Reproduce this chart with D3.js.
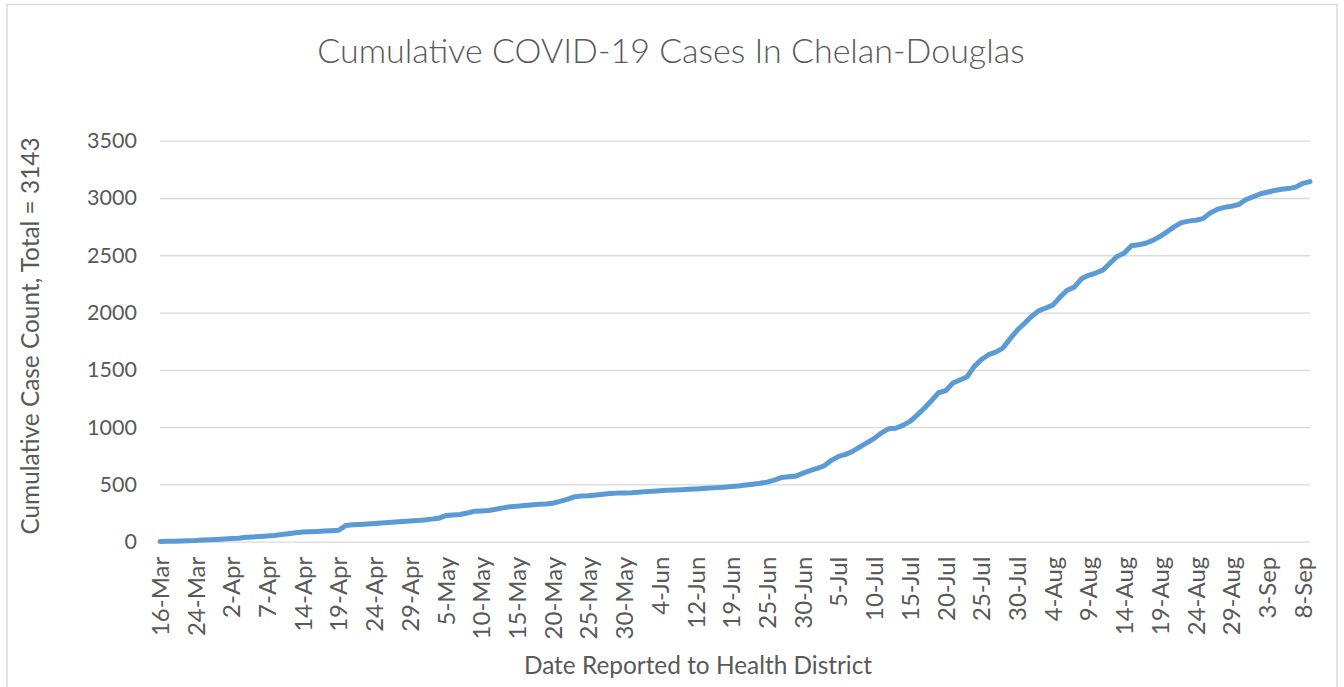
<!DOCTYPE html>
<html>
<head>
<meta charset="utf-8">
<script src="https://cdn.jsdelivr.net/npm/d3@7"></script>
<style>
  html, body { margin: 0; padding: 0; background: #fff; }
  svg text { font-family: Lato, "Open Sans", sans-serif; fill: #595959; }
</style>
</head>
<body>
<script>
    // reported dates (category axis, not continuous time)
    var dates = (
        "16-Mar 17-Mar 18-Mar 19-Mar 20-Mar 24-Mar 25-Mar 27-Mar 30-Mar 31-Mar " +
        "2-Apr 3-Apr 4-Apr 5-Apr 6-Apr 7-Apr 8-Apr 9-Apr 10-Apr 13-Apr " +
        "14-Apr 15-Apr 16-Apr 17-Apr 18-Apr 19-Apr 20-Apr 21-Apr 22-Apr 23-Apr " +
        "24-Apr 25-Apr 26-Apr 27-Apr 28-Apr 29-Apr 30-Apr 1-May 2-May 4-May " +
        "5-May 6-May 7-May 8-May 9-May 10-May 11-May 12-May 13-May 14-May " +
        "15-May 16-May 17-May 18-May 19-May 20-May 21-May 22-May 23-May 24-May " +
        "25-May 26-May 27-May 28-May 29-May 30-May 31-May 1-Jun 2-Jun 3-Jun " +
        "4-Jun 5-Jun 8-Jun 9-Jun 10-Jun 12-Jun 15-Jun 16-Jun 17-Jun 18-Jun " +
        "19-Jun 20-Jun 22-Jun 23-Jun 24-Jun 25-Jun 26-Jun 27-Jun 28-Jun 29-Jun " +
        "30-Jun 1-Jul 2-Jul 3-Jul 4-Jul 5-Jul 6-Jul 7-Jul 8-Jul 9-Jul " +
        "10-Jul 11-Jul 12-Jul 13-Jul 14-Jul 15-Jul 16-Jul 17-Jul 18-Jul 19-Jul " +
        "20-Jul 21-Jul 22-Jul 23-Jul 24-Jul 25-Jul 26-Jul 27-Jul 28-Jul 29-Jul " +
        "30-Jul 31-Jul 1-Aug 2-Aug 3-Aug 4-Aug 5-Aug 6-Aug 7-Aug 8-Aug " +
        "9-Aug 10-Aug 11-Aug 12-Aug 13-Aug 14-Aug 15-Aug 16-Aug 17-Aug 18-Aug " +
        "19-Aug 20-Aug 21-Aug 22-Aug 23-Aug 24-Aug 25-Aug 26-Aug 27-Aug 28-Aug " +
        "29-Aug 30-Aug 31-Aug 1-Sep 2-Sep 3-Sep 4-Sep 5-Sep 6-Sep 7-Sep " +
        "8-Sep 9-Sep").split(" ");

    var cases = [
        2, 3, 4, 6, 8, 10, 14, 17, 20, 24,
        27, 30, 38, 42, 46, 50, 55, 62, 70, 78,
        84, 87, 90, 93, 96, 100, 141, 147, 151, 155,
        159, 163, 167, 171, 176, 180, 184, 190, 197, 204,
        228, 233, 238, 250, 266, 269, 272, 283, 295, 305,
        310, 315, 320, 326, 330, 336, 352, 370, 392, 398,
        402, 408, 414, 420, 424, 426, 428, 432, 437, 441,
        445, 448, 451, 454, 457, 460, 464, 468, 472, 476,
        481, 487, 494, 502, 510, 520, 537, 560, 566, 572,
        598, 620, 640, 663, 710, 745, 762, 790, 828, 865,
        902, 950, 985, 990, 1015, 1050, 1105, 1165, 1230, 1300,
        1318, 1385, 1412, 1440, 1530, 1590, 1632, 1655, 1690, 1770,
        1845, 1905, 1965, 2015, 2040, 2065, 2135, 2195, 2222, 2295,
        2325, 2345, 2370, 2430, 2490, 2520, 2583, 2592, 2605, 2630,
        2665, 2705, 2750, 2785, 2798, 2806, 2820, 2868, 2900, 2918,
        2928, 2942, 2985, 3010, 3035, 3050, 3065, 3076, 3082, 3095,
        3128, 3143
    ];

    var yTicks = [0, 500, 1000, 1500, 2000, 2500, 3000, 3500];
    var labelEvery = 5;

    var width = 1344, height = 687;
    var plotLeft = 160, plotRight = 1310, plotTop = 140.7, plotBottom = 541.7;

    var svg = d3.select("body")
        .append("svg").attr("width", width).attr("height", height);

    // chart border
    svg.append("rect")
        .attr("x", 7).attr("y", 4.5)
        .attr("width", 1330).attr("height", 700)
        .style("fill", "none").style("stroke", "#d9d9d9").style("stroke-width", 1.3);

    var x = d3.scalePoint().domain(dates).range([plotLeft, plotRight]);
    var y = d3.scaleLinear().domain([0, 3500]).range([plotBottom, plotTop]);

    // gridlines + y labels
    var yAxis = d3.axisLeft(y).tickValues(yTicks).tickFormat(d3.format("d"))
        .tickSize(-(plotRight - plotLeft)).tickPadding(23);
    var gy = svg.append("g").attr("transform", "translate(" + plotLeft + ",0)").call(yAxis);
    gy.select(".domain").remove();
    gy.selectAll(".tick line").style("stroke", "#d9d9d9").style("stroke-width", 1.3);
    gy.selectAll(".tick text")
        .style("font-family", "Lato, sans-serif")
        .style("font-size", "21.5px").style("fill", "#595959");

    // x labels (every 5th category)
    var xAxis = d3.axisBottom(x)
        .tickValues(dates.filter(function(d, i){ return i % labelEvery === 0 && i < dates.length - 1; }))
        .tickSize(0);
    var gx = svg.append("g").attr("transform", "translate(0," + plotBottom + ")").call(xAxis);
    gx.select(".domain").remove();
    gx.selectAll(".tick text")
        .attr("transform", "rotate(-90)")
        .attr("x", -15).attr("y", 0).attr("dy", "0.35em")
        .attr("text-anchor", "end")
        .style("font-family", "Lato, sans-serif")
        .style("font-size", "24px").style("fill", "#595959");

    var line = d3.line()
        .x(function(d, i){ return x(dates[i]); })
        .y(function(d){ return y(d); });

    svg.append("path")
        .datum(cases)
        .attr("d", line)
        .style("fill", "none")
        .style("stroke", "#5b9bd5")
        .style("stroke-width", 5)
        .style("stroke-linejoin", "round")
        .style("stroke-linecap", "round");

    svg.append("text")
        .attr("x", 671).attr("y", 63)
        .attr("text-anchor", "middle")
        .style("font-size", "34px").style("font-weight", 300)
        .text("Cumulative COVID-19 Cases In Chelan-Douglas");

    svg.append("text")
        .attr("transform", "translate(39,336) rotate(-90)")
        .attr("text-anchor", "middle")
        .style("font-size", "24.4px")
        .text("Cumulative Case Count, Total = 3143");

    svg.append("text")
        .attr("x", 698).attr("y", 674)
        .attr("text-anchor", "middle")
        .style("font-size", "24.4px")
        .text("Date Reported to Health District");
</script>
</body>
</html>
